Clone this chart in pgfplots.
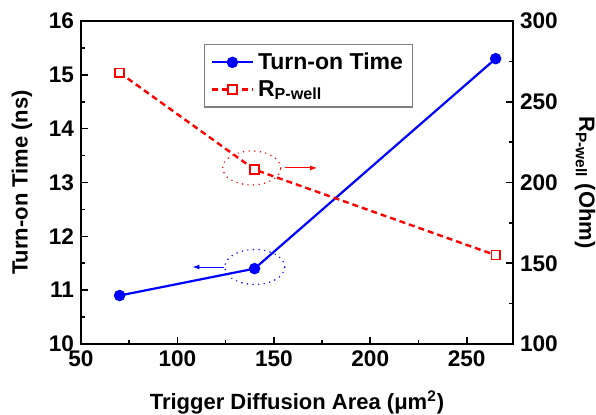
\documentclass[border=0pt]{standalone}
\usepackage{fontspec}
\setmainfont{Liberation Sans}
\usepackage{pgfplots}
\pgfplotsset{compat=1.18}
\usetikzlibrary{arrows.meta}
\begin{document}
\begin{tikzpicture}
\pgfplotsset{
  common/.style={
    scale only axis, width=216pt, height=161.5pt,
    xmin=50, xmax=274,
    /pgf/number format/assume math mode=true,
    tick label style={font=\fontsize{11.3}{13}\selectfont\bfseries},
    label style={font=\fontsize{11}{13}\selectfont\bfseries},
    axis line style={line width=1pt},
    every tick/.style={black, line width=0.8pt},
    major tick length=3.5pt, minor tick length=2pt,
    tick align=inside,
  }
}
\begin{axis}[common,
  ymin=10, ymax=16,
  xtick={50,100,150,200,250}, minor xtick={75,125,175,225},
  ytick={10,11,12,13,14,15,16}, minor ytick={10.5,11.5,12.5,13.5,14.5,15.5},
  xtick pos=bottom, ytick pos=left,
  xlabel={Trigger Diffusion Area (μm\textsuperscript{2})},
  ylabel={Turn-on Time (ns)},
  xlabel style={at={(axis description cs:0.5,-0.18)}, anchor=center},
  ylabel style={at={(axis description cs:-0.137,0.5)}, anchor=center},
  clip=false,
]
\addplot[blue, line width=1.1pt, mark=*, mark size=2.3pt] coordinates {
  (70,10.9) (140,11.4) (265,15.3)
};
\draw[red, line width=0.8pt, line cap=round, dash pattern=on 0pt off 2.8pt]
  (axis cs:138.5,13.27) ellipse [x radius=14.5pt, y radius=8.5pt];
\draw[blue, line width=0.8pt, line cap=round, dash pattern=on 0pt off 2.8pt]
  (axis cs:140.1,11.43) ellipse [x radius=15pt, y radius=8.75pt];
\draw[red, line width=0.5pt, -{Latex[length=3.5pt,width=2.5pt]}] (axis cs:155.7,13.27) -- (axis cs:172.4,13.27);
\draw[blue, line width=0.5pt, -{Latex[length=3.5pt,width=2.5pt]}] (axis cs:124,11.43) -- (axis cs:107.8,11.43);
\end{axis}
\begin{axis}[common,
  ymin=100, ymax=300,
  axis y line*=right, axis x line=none,
  ytick={100,150,200,250,300}, minor ytick={125,175,225,275},
  ylabel={R\textsubscript{P-well} (Ohm)},
  ylabel style={at={(axis description cs:1.167,0.5)}, anchor=center, rotate=180},
  legend style={at={(axis description cs:0.285,0.929)}, anchor=north west,
    draw=gray, line width=0.6pt, font=\fontsize{11.5}{13}\selectfont\bfseries,
    row sep=0pt, inner xsep=3pt, inner ysep=2pt},
  legend image code/.code={%
    \draw[mark repeat=2,mark phase=2] plot coordinates {(0cm,0cm) (0.36cm,0cm) (0.72cm,0cm)};},
  legend cell align=left,
  clip=false,
]
\addlegendimage{blue, line width=1.1pt, mark=*, mark size=2.3pt}
\addlegendentry{Turn-on Time}
\addplot[red, line width=1.2pt, dash pattern=on 3pt off 2pt, mark=square*, mark size=2.2pt,
  mark options={solid, line width=0.7pt, fill=white}] coordinates {
  (70,268) (140,208) (265,155)
};
\addlegendentry{R\textsubscript{P-well}}
\end{axis}
\pgfresetboundingbox
\path ([shift={(-40.5pt,-35.5pt)}]current axis.south west) rectangle ([shift={(41.5pt,10.5pt)}]current axis.north east);
\end{tikzpicture}
\end{document}
